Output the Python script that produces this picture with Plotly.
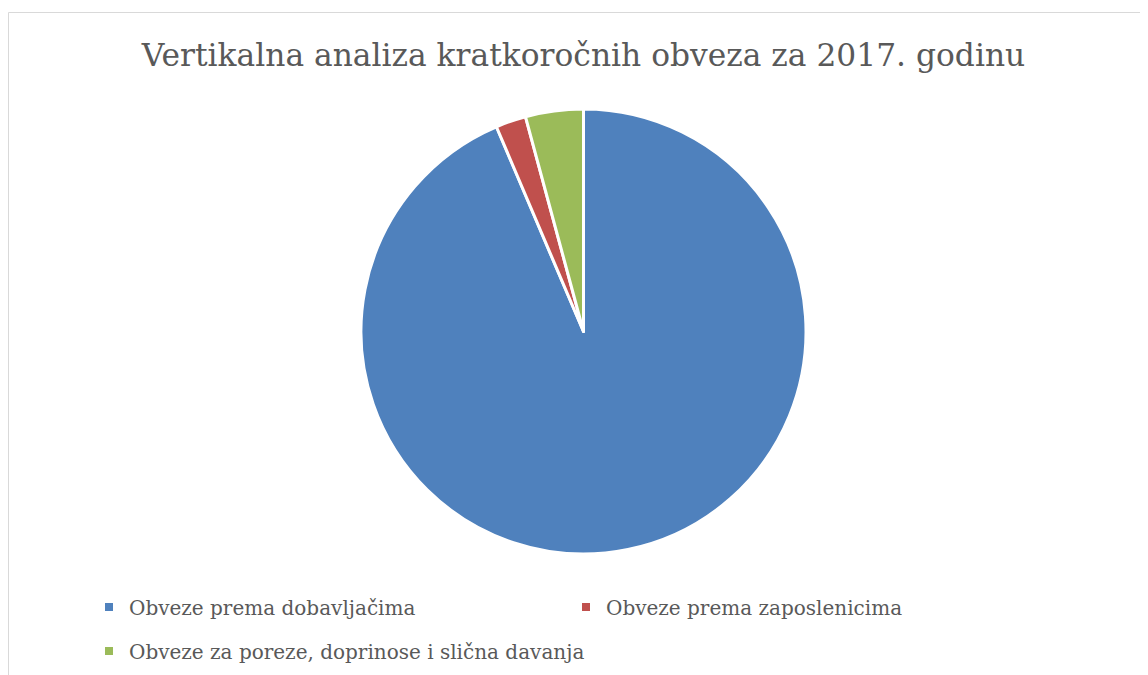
import plotly.graph_objects as go

labels = ["Obveze prema dobavljačima", "Obveze prema zaposlenicima",
          "Obveze za poreze, doprinose i slična davanja"]
values = [93.6, 2.2, 4.2]
colors = ["#4F81BD", "#C0504D", "#9BBB59"]
title_text = "Vertikalna analiza kratkoročnih obveza za 2017. godinu"

W, H = 1148, 675
FONT = "DejaVu Serif"
TXT = "#595959"

cx, cy, r = 575.5, 323.5, 222.5

fig = go.Figure()
fig.add_trace(go.Pie(
    labels=labels, values=values, sort=False, direction="clockwise", rotation=0,
    marker=dict(colors=colors, line=dict(color="white", width=3)),
    textinfo="none", hoverinfo="label+percent", showlegend=False,
    domain=dict(x=[(cx - r) / W, (cx + r) / W], y=[(H - cy - r) / H, (H - cy + r) / H]),
))

# legend entries (two rows -> two legends)
legend_of = ["legend", "legend", "legend2"]
for lab, col, lg in zip(labels, colors, legend_of):
    fig.add_trace(go.Scatter(
        x=[None], y=[None], mode="markers", name=lab, legend=lg,
        marker=dict(symbol="square", size=8, color=col),
        showlegend=True,
    ))

leg_common = dict(orientation="h", xanchor="left", yanchor="middle",
                  font=dict(family=FONT, size=20, color=TXT),
                  bgcolor="rgba(0,0,0,0)", borderwidth=0, itemwidth=30)

fig.update_layout(
    width=W, height=H,
    margin=dict(l=0, r=0, t=0, b=0),
    paper_bgcolor="white", plot_bgcolor="white",
    xaxis=dict(visible=False), yaxis=dict(visible=False),
    title=dict(text=title_text, x=575.5 / W, xanchor="center",
               y=1 - 47.5 / H, yanchor="middle",
               font=dict(family=FONT, size=31.3, color=TXT)),
    legend=dict(x=81 / W, y=1 - 599 / H, entrywidth=432, entrywidthmode="pixels", **leg_common),
    legend2=dict(x=81 / W, y=1 - 643 / H, **leg_common),
    shapes=[
        dict(type="line", xref="paper", yref="paper", x0=0.5 / W, x1=1, y0=1 - 4.5 / H, y1=1 - 4.5 / H,
             line=dict(color="#D9D9D9", width=1)),
        dict(type="line", xref="paper", yref="paper", x0=0.5 / W, x1=0.5 / W, y0=0, y1=1 - 4.5 / H,
             line=dict(color="#D9D9D9", width=1)),
    ],
)

fig.write_html("out.html")
